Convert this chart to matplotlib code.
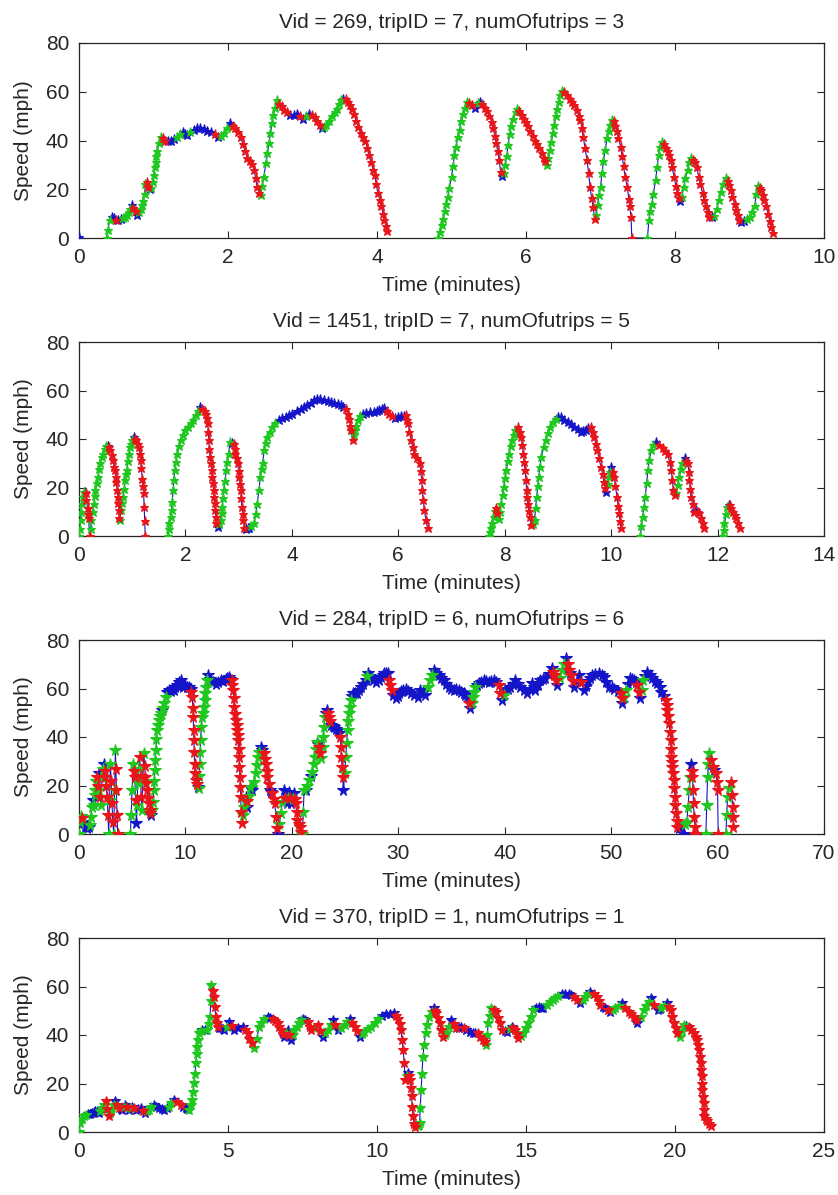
import numpy as np
import matplotlib
matplotlib.use("Agg")
import matplotlib.pyplot as plt

nan = float('nan')

titles = ["Vid = 269, tripID = 7, numOfutrips = 3",
          "Vid = 1451, tripID = 7, numOfutrips = 5",
          "Vid = 284, tripID = 6, numOfutrips = 6",
          "Vid = 370, tripID = 1, numOfutrips = 1"]
x_label = "Time (minutes)"
y_label = "Speed (mph)"
x_limits = [10, 14, 70, 25]
x_tick_lists = [[0, 2, 4, 6, 8, 10],
                [0, 2, 4, 6, 8, 10, 12, 14],
                [0, 10, 20, 30, 40, 50, 60, 70],
                [0, 5, 10, 15, 20, 25]]
y_ticks = [0, 20, 40, 60, 80]
thresholds = [18, 18, 12, 8]   # mph/min: above -> accelerating, below minus -> braking

# ---------------- trip 1 ----------------
t1 = [0.00, nan,
      0.37, 0.39, 0.41, 0.44, 0.47, 0.50, 0.53, 0.56, 0.59, 0.62, 0.65, 0.67, 0.69, 0.71, 0.73, 0.76, 0.78,
      0.81, 0.83, 0.85, 0.86, 0.88, 0.89, 0.91, 0.93, 0.95, 0.97, 0.99, 1.00, 1.02, 1.03, 1.04, 1.05, 1.07,
      1.10, 1.13, 1.16, 1.19, 1.23, 1.27, 1.32, 1.36, 1.39, 1.42, 1.45, 1.49, 1.54, 1.59, 1.63, 1.68, 1.72,
      1.77, 1.82, 1.87, 1.91, 1.95, 1.99, 2.03, 2.07, 2.10, 2.14, 2.17, 2.20, 2.23, 2.26, 2.29, 2.32, 2.35,
      2.37, 2.39, 2.42, 2.44, 2.46, 2.48, 2.51, 2.53, 2.55, 2.57, 2.59, 2.61, 2.63, 2.66, 2.69, 2.72, 2.75,
      2.79, 2.83, 2.88, 2.93, 2.97, 3.01, 3.05, 3.09, 3.13, 3.17, 3.20, 3.23, 3.26, 3.29, 3.32, 3.36, 3.40,
      3.43, 3.46, 3.49, 3.52, 3.55, 3.58, 3.61, 3.64, 3.67, 3.69, 3.72, 3.75, 3.78, 3.81, 3.84, 3.87, 3.89,
      3.92, 3.95, 3.97, 3.99, 4.01, 4.04, 4.06, 4.08, 4.10, 4.12, 4.14, nan,
      4.82, 4.85, 4.87, 4.89, 4.91, 4.93, 4.95, 4.97, 5.00, 5.02, 5.04, 5.06, 5.09, 5.11, 5.13, 5.16, 5.18,
      5.21, 5.24, 5.27, 5.31, 5.35, 5.38, 5.41, 5.45, 5.48, 5.51, 5.54, 5.56, 5.58, 5.60, 5.62, 5.64, 5.66,
      5.68, 5.70, 5.72, 5.74, 5.76, 5.78, 5.80, 5.83, 5.86, 5.88, 5.91, 5.94, 5.97, 6.00, 6.03, 6.06, 6.09,
      6.12, 6.15, 6.18, 6.21, 6.24, 6.26, 6.28, 6.30, 6.32, 6.34, 6.36, 6.38, 6.40, 6.42, 6.44, 6.46, 6.48,
      6.51, 6.55, 6.59, 6.62, 6.65, 6.68, 6.71, 6.73, 6.75, 6.77, 6.79, 6.82, 6.84, 6.86, 6.88, 6.90, 6.92,
      6.94, 6.96, 6.98, 7.00, 7.02, 7.04, 7.06, 7.09, 7.11, 7.13, 7.16, 7.18, 7.20, 7.22, 7.24, 7.27, 7.29,
      7.31, 7.33, 7.36, 7.38, 7.39, 7.41, 7.42, 7.63, 7.65, 7.67, 7.69, 7.71, 7.74, 7.76, 7.78, 7.80, 7.82,
      7.85, 7.88, 7.90, 7.92, 7.94, 7.96, 7.99, 8.01, 8.03, 8.05, 8.07, 8.09, 8.12, 8.14, 8.17, 8.19, 8.21,
      8.24, 8.27, 8.29, 8.32, 8.34, 8.37, 8.39, 8.41, 8.44, 8.46, 8.50, 8.53, 8.56, 8.59, 8.62, 8.65, 8.68,
      8.71, 8.73, 8.75, 8.77, 8.80, 8.82, 8.84, 8.86, 8.89, 8.92, 8.96, 9.00, 9.04, 9.07, 9.09, 9.11, 9.14,
      9.16, 9.18, 9.20, 9.22, 9.25, 9.27, 9.29, 9.31]
v1 = [0.5, nan,
      0, 3.3, 7.4, 8.5, 8.3, 7.5, 7.2, 7.7, 8.2, 8.8, 9.6, 10.5, 12, 13.5, 12.5, 11, 9.5,
      10.8, 12, 13.5, 15, 18, 22, 23, 21, 20, 20.5, 23, 26, 29, 31, 33.5, 35.5, 39,
      41.6, 41, 40, 39.6, 40, 40.8, 41.6, 42.8, 43.3, 42.5, 42.3, 43.5, 44.3, 45, 45, 44.6, 44,
      43.5, 42.5, 41.3, 42, 43, 45, 47, 46, 45, 43.5, 41.6, 38.5, 35.5, 33, 31.5, 30.5, 28,
      24.5, 21, 18.5, 17.7, 21.5, 25, 30.7, 35, 39, 43, 47, 50.5, 53.5, 56.5, 55, 54, 52.6,
      51.5, 50.5, 50.5, 50.8, 50, 49, 50, 51, 50.5, 49.5, 48, 46.5, 45, 45.5, 46.5, 48, 50,
      51.5, 53, 55, 56.5, 57.2, 57, 56, 54.5, 53, 51, 48, 45.5, 43, 41.5, 40, 37, 34,
      31, 28, 26, 22, 18.5, 15.5, 13, 10, 7.4, 5, 3, nan,
      0, 2.5, 5.5, 8, 11, 14, 17, 20.5, 25, 29.5, 34, 37.5, 41.6, 44.5, 47.8, 51, 53.5,
      56, 55.5, 54.5, 53.5, 55.5, 56, 55, 53.5, 52, 50, 47.5, 45, 42, 39, 35.5, 32, 27,
      25.5, 26.5, 30, 33.5, 38, 42.5, 46, 49, 51.5, 53, 52, 50.5, 49, 47.5, 46, 44, 42,
      40, 38.5, 37, 35, 33, 31.5, 30, 33, 36, 39.5, 43, 46.5, 50, 53, 56, 58.5, 60.5,
      60, 58.5, 57.2, 56, 54.5, 52.5, 50, 48.5, 45, 41.6, 37, 32, 26.5, 21, 16.5, 12.9, 8,
      9.5, 13.5, 17.5, 21, 26.5, 31.5, 36, 41, 44, 46.5, 48.3, 48, 46, 44, 41, 37.5, 33.5,
      29.5, 25, 21, 16, 13, 8.8, 0, 0, 7.4, 11, 14, 18, 24, 29, 34, 37.5, 39.5,
      38.5, 37, 35.5, 34, 32, 29, 25, 21.5, 18.5, 16.5, 15, 17, 21, 24.5, 28, 31, 32.7,
      32, 31, 29, 25, 22, 18.4, 15.5, 13, 10.5, 8.8, 8.5, 9, 12, 15.6, 19, 22, 24.5,
      23.5, 21.8, 19.5, 17, 14, 11.5, 9.5, 7.5, 6.7, 7, 7.8, 8.8, 10.5, 13, 18, 21.5, 20.5,
      19.5, 17.5, 15.5, 13, 10, 7, 4.5, 2]

# ---------------- trip 2 ----------------
t2 = [0.00, 0.02, 0.03, 0.04, 0.05, 0.07, 0.09, 0.11, 0.13, 0.14, 0.16, 0.17, 0.18, 0.20, 0.22, 0.23,
      0.26, 0.28, 0.30, 0.31, 0.34, 0.36, 0.38, 0.40, 0.43, 0.45, 0.48, 0.50, 0.54, 0.57, 0.59, 0.62,
      0.64, 0.66, 0.67, 0.69, 0.70, 0.72, 0.73, 0.74, 0.75, 0.76, 0.77, 0.79, 0.81, 0.83, 0.85, 0.87,
      0.89, 0.90, 0.92, 0.94, 0.96, 0.98, 1.00, 1.03, 1.06, 1.08, 1.10, 1.12, 1.14, 1.16, 1.17, 1.19,
      1.20, 1.215, 1.225, 1.235, 1.245, nan,
      1.67, 1.69, 1.70, 1.72, 1.74, 1.75, 1.77, 1.78, 1.80, 1.82, 1.85, 1.88, 1.91, 1.95, 2.00, 2.05,
      2.10, 2.14, 2.19, 2.23, 2.28, 2.32, 2.36, 2.38, 2.40, 2.42, 2.43, 2.44, 2.45, 2.46, 2.48, 2.49,
      2.50, 2.51, 2.53, 2.54, 2.55, 2.56, 2.57, 2.58, 2.61, 2.64, 2.66, 2.68, 2.69, 2.71, 2.72, 2.74,
      2.77, 2.79, 2.81, 2.84, 2.87, 2.91, 2.93, 2.94, 2.96, 2.98, 3.00, 3.01, 3.03, 3.04, 3.05, 3.06,
      3.08, 3.09, 3.11, 3.14, 3.17, 3.20, 3.24, 3.29, 3.32, 3.35, 3.38, 3.41, 3.43, 3.45, 3.48, 3.51,
      3.54, 3.58, 3.63, 3.69, 3.76, 3.82, 3.89, 3.95, 4.01, 4.09, 4.17, 4.23, 4.29, 4.36, 4.42, 4.48,
      4.53, 4.60, 4.67, 4.73, 4.80, 4.86, 4.92, 4.97, 5.02, 5.05, 5.08, 5.10, 5.11, 5.14, 5.17, 5.19,
      5.21, 5.24, 5.28, 5.33, 5.40, 5.47, 5.54, 5.60, 5.64, 5.69, 5.74, 5.79, 5.83, 5.88, 5.93, 5.99,
      6.05, 6.10, 6.15, 6.17, 6.19, 6.21, 6.24, 6.27, 6.30, 6.35, 6.40, 6.42, 6.44, 6.45, 6.47, 6.49,
      6.52, 6.55, nan,
      7.70, 7.72, 7.74, 7.77, 7.79, 7.82, 7.84, 7.86, 7.89, 7.91, 7.93, 7.96, 7.98, 8.01, 8.03, 8.06,
      8.08, 8.11, 8.14, 8.17, 8.20, 8.25, 8.28, 8.31, 8.33, 8.35, 8.37, 8.38, 8.40, 8.41, 8.42, 8.43,
      8.45, 8.47, 8.50, 8.53, 8.56, 8.58, 8.60, 8.62, 8.64, 8.66, 8.69, 8.73, 8.77, 8.81, 8.86, 8.91,
      8.96, 9.01, 9.06, 9.12, 9.18, 9.24, 9.30, 9.37, 9.43, 9.48, 9.52, 9.57, 9.62, 9.65, 9.68, 9.71,
      9.74, 9.77, 9.81, 9.84, 9.86, 9.89, 9.91, 9.94, 9.96, 9.98, 10.00, 10.03, 10.06, 10.08, 10.11,
      10.13, 10.15, 10.17, 10.18, nan,
      10.55, 10.57, 10.59, 10.62, 10.64, 10.67, 10.69, 10.72, 10.75, 10.79, 10.84, 10.90, 10.97, 11.02,
      11.06, 11.10, 11.13, 11.15, 11.17, 11.20, 11.22, 11.25, 11.28, 11.31, 11.33, 11.38, 11.41, 11.44,
      11.46, 11.47, 11.49, 11.50, 11.53, 11.55, 11.58, 11.60, 11.63, 11.66, 11.69, 11.72, 11.75, nan,
      12.10, 12.12, 12.13, 12.16, 12.18, 12.21, 12.23, 12.26, 12.29, 12.32, 12.35, 12.38, 12.42]
v2 = [0, 3, 6.6, 10, 13.4, 16, 18.2, 18, 17.6, 15, 11.4, 9, 7.3, 0, 3, 6.6,
      10, 13.4, 16.5, 19, 22, 24.4, 27.5, 30, 32.5, 34, 36, 37.3, 37.3, 36.5, 35.4, 33.5,
      31.3, 28.5, 27.2, 24.5, 22.4, 19, 16.2, 13.5, 10.7, 7.5, 6.6, 10.7, 13.5, 16.2, 19.5, 23,
      25.5, 27.2, 31, 34, 36.5, 38, 39.5, 40.9, 40.2, 39.5, 38, 36.8, 34, 31.3, 28, 23.7,
      20.5, 17.6, 12, 6, 0, nan,
      0, 3, 5.2, 8, 10.7, 14, 19, 23, 27.2, 30.5, 34, 37, 39.5, 41.5, 43.6, 45,
      46.4, 48, 49.8, 51.5, 53.2, 52.5, 51.5, 50.5, 48.5, 46.4, 43, 39.5, 36, 32.6, 30, 27.2,
      24.5, 21.7, 19, 16.2, 13.5, 10.7, 8, 5.2, 3.8, 5, 6.6, 9.5, 12, 15.5, 19, 22.5,
      27.2, 30.5, 34, 38.8, 38.5, 38.1, 36, 34, 32, 30, 27, 24.4, 21.5, 19, 15.5, 12,
      9, 6.6, 3.2, 3, 3.2, 3.2, 4, 5.2, 9, 13.4, 19, 24.4, 27.5, 30, 35.4, 38.5,
      40.9, 43, 45, 46.5, 47.7, 48.5, 49.1, 49.8, 50.5, 51.5, 52.3, 53, 53.9, 55, 56, 56.5,
      56.5, 56, 55.7, 55.3, 54.9, 54.5, 53.9, 53.2, 52.5, 50.5, 48.4, 45.5, 43.6, 39.5, 41.5, 43.6,
      45.5, 47.7, 49.3, 50.5, 50.8, 51, 51.2, 51.6, 51.9, 52.5, 52.9, 51.5, 50.5, 49.5, 48.7, 49,
      49.4, 49.6, 49.8, 48, 46.4, 43, 39.5, 36.5, 34, 32, 30, 27, 23, 19, 15, 10.7,
      6.5, 3.2, nan,
      0, 1.5, 3.2, 5.5, 8, 10.5, 11.4, 9.3, 6.9, 10, 13.4, 17, 20.3, 24, 27.2, 31,
      34, 37, 39.5, 41.8, 43.6, 45, 43, 40.9, 37.5, 34, 30.5, 27.2, 23, 19, 16, 13.4,
      10.5, 8, 4.5, 5, 6.6, 11.5, 16.2, 20.5, 24.4, 28.5, 32.6, 36.5, 39.5, 42.5, 45, 47,
      48.4, 49, 49.1, 48, 47, 46, 45, 44, 42.9, 43.5, 43.9, 44.5, 45, 43, 40.9, 38,
      35.4, 32, 28.5, 25.5, 22.4, 20, 18.2, 21.5, 24.4, 26.5, 28.5, 26.5, 24.4, 20.5, 16.2,
      12.5, 9.3, 6, 3.2, nan,
      0, 4, 8, 12, 16.2, 22, 27.2, 31.5, 35.4, 37.5, 38.8, 37.5, 36.1, 35,
      34, 30.5, 27.2, 23, 19, 17, 17.6, 21, 24.4, 27.5, 30, 32, 31, 30,
      26.5, 23, 19.5, 16.2, 13, 10, 10.5, 10.7, 10, 9.3, 7.5, 5.2, 3.2, nan,
      0, 2.5, 5.2, 9, 12, 12.9, 12.7, 11.5, 10, 8.5, 7.3, 5.5, 3.2]

# ---------------- trip 3 ----------------
t3 = [0.00, 0.10, 0.15, 0.25, 0.35, 0.45, 0.55, 0.65, 0.75, 0.90, 1.00, 1.10, 1.22, 1.30, 1.38, 1.46,
      1.54, 1.62, 1.70, 1.78, 1.85, 1.92, 2.00, 2.08, 2.16, 2.24, 2.32, 2.40, 2.48, 2.56, 2.64, 2.72,
      2.79, 2.87, 2.95, 3.02, 3.10, 3.18, 3.26, 3.34, 3.42, 3.47, 3.51, 3.57, 3.64, nan,
      4.83, 4.90, 4.99, 5.08, 5.16, 5.24, 5.32, 5.40, 5.46, 5.52, 5.60, 5.71, 5.78, 5.84, 5.93, 6.00,
      6.09, 6.17, 6.24, 6.32, 6.40, 6.48, 6.56, 6.64, 6.71, 6.80, 6.87, 6.95, 7.03, 7.08, 7.12, 7.17,
      7.22, 7.28, 7.34, 7.42, 7.50, 7.58, 7.66, 7.77, 7.88, 8.00, 8.13, 8.28, 8.44, 8.60, 8.75, 8.91,
      9.06, 9.22, 9.38, 9.54, 9.66, 9.79, 9.90, 10.00, 10.15, 10.30, 10.48, 10.56, 10.64, 10.69, 10.73,
      10.76, 10.80, 10.83, 10.86, 10.90, 10.95, 11.05, 11.15, 11.26, 11.31, 11.36, 11.39, 11.42, 11.50,
      11.58, 11.64, 11.72, 11.80, 11.88, 11.95, 12.03, 12.11, 12.27, 12.43, 12.63, 12.83, 13.05, 13.30,
      13.55, 13.77, 13.93, 14.09, 14.22, 14.34, 14.42, 14.50, 14.53, 14.56, 14.64, 14.72, 14.80, 14.87,
      14.91, 14.94, 14.99, 15.03, 15.08, 15.12, 15.16, 15.19, 15.25, 15.31, 15.40, 15.50, 15.58, 15.66,
      15.74, 15.81, 15.94, 16.07, 16.18, 16.29, 16.45, 16.60, 16.71, 16.82, 16.95, 17.07, 17.22, 17.38,
      17.46, 17.54, 17.62, 17.70, 17.82, 17.95, 18.06, 18.17, 18.28, 18.39, 18.52, 18.64, 18.70, 18.82,
      18.95, 19.10, 19.27, 19.40, 19.52, 19.63, 19.74, 19.85, 19.96, 20.08, 20.21, 20.30, 20.36, 20.45,
      20.52, 20.63, 20.74, 20.85, 20.99, 21.07, 21.15, 21.30, 21.46, 21.62, 21.78, 21.93, 22.04, 22.15,
      22.25, 22.34, 22.45, 22.56, 22.67, 22.78, 22.88, 22.97, 23.03, 23.09, 23.22, 23.34, 23.42, 23.50,
      23.58, 23.66, 23.82, 23.97, 24.13, 24.29, 24.42, 24.54, 24.60, 24.66, 24.71, 24.76, 24.85, 24.96,
      25.07, 25.15, 25.23, 25.30, 25.38, 25.46, 25.54, 25.66, 25.79, 25.95, 26.10, 26.30, 26.48, 26.70,
      26.95, 27.05, 27.17, 27.30, 27.42, 27.65, 27.90, 28.15, 28.37, 28.52, 28.68, 28.84, 28.99, 29.12,
      29.24, 29.40, 29.55, 29.78, 29.95, 30.10, 30.25, 30.48, 30.72, 30.95, 31.19, 31.50, 31.82, 32.06,
      32.30, 32.53, 32.75, 33.00, 33.15, 33.31, 33.55, 33.78, 34.00, 34.25, 34.50, 34.73, 34.95, 35.20,
      35.45, 35.67, 35.90, 36.14, 36.30, 36.45, 36.60, 36.77, 36.90, 37.02, 37.13, 37.24, 37.40, 37.55,
      37.80, 38.02, 38.25, 38.49, 38.72, 38.96, 39.20, 39.43, 39.60, 39.75, 39.90, 40.06, 40.30, 40.53,
      40.75, 41.00, 41.25, 41.48, 41.80, 42.10, 42.35, 42.57, 42.72, 42.89, 43.10, 43.36, 43.60, 43.83,
      44.15, 44.46, 44.55, 44.62, 44.78, 44.93, 45.15, 45.40, 45.60, 45.78, 45.90, 46.03, 46.15, 46.25,
      46.38, 46.50, 46.75, 46.97, 47.20, 47.44, 47.60, 47.85, 48.00, 48.23, 48.50, 48.85, 49.10, 49.32,
      49.55, 49.80, 50.05, 50.27, 50.60, 50.90, 50.98, 51.05, 51.20, 51.37, 51.57, 51.77, 51.95, 52.15,
      52.30, 52.46, 52.60, 52.72, 52.88, 53.03, 53.20, 53.41, 53.65, 53.88, 54.10, 54.35, 54.55, 54.73,
      54.93, 55.13, 55.22, 55.29, 55.37, 55.45, 55.52, 55.60, 55.64, 55.67, 55.72, 55.76, 55.84, 55.92,
      55.95, 55.98, 56.03, 56.08, 56.15, 56.23, 56.40, 56.60, 56.80, 56.95, 57.11, 57.22, 57.33, 57.44,
      57.55, 57.60, 57.64, 57.69, 57.74, 57.80, 57.86, 57.90, nan,
      58.90, 58.98, 59.06, 59.14, 59.22, 59.38, 59.53, 59.68, 59.84, 59.92, 60.00, 60.06, nan,
      60.78, 60.86, 60.94, 61.10, 61.26, 61.34, 61.41, 61.45, 61.48]
v3 = [0, 5, 7.5, 6.5, 5, 4.4, 3.5, 2.7, 2.5, 3, 3.7, 7, 11, 14, 12, 16,
      18, 22, 23.6, 20, 18, 25, 15.4, 12, 23.6, 27, 29, 26, 23.6, 20, 15.4, 8,
      0, 14, 29, 22, 12.6, 5, 0, 18, 34.6, 27, 18, 8, 0, nan,
      0, 8, 18, 29, 26, 23.6, 14, 4.4, 12, 20.9, 27, 31.9, 24, 15.4, 9.9, 22,
      33.3, 28, 23.6, 21, 18, 15, 12.6, 10, 8.5, 8, 9.9, 13, 18, 22, 26.4, 30.5,
      34.6, 39, 42.9, 45, 47, 48.5, 49.8, 51, 51.8, 54, 56.6, 58.5, 59.4, 58.8, 59.6, 59.4,
      60.5, 61.4, 62.5, 63.5, 61.5, 60.8, 61.2, 61.4, 60.5, 60.8, 60, 58.5, 56.6, 52, 48.4,
      43, 38.8, 34, 29, 25, 22.3, 20.5, 19.5, 18.8, 24, 29, 34, 38.8, 44,
      48.4, 49.8, 52.5, 55.3, 58, 60.8, 63.5, 65.6, 64, 63.2, 62.5, 61.9, 62.8, 63.5,
      63.2, 63.8, 64.3, 64.9, 64, 63.5, 61.5, 59.4, 56, 52.5, 49.5, 47, 45, 42.9,
      41, 38.8, 35, 31.9, 27.5, 23.6, 19.5, 15.4, 9, 4.4, 8, 11.3, 13.5, 15.4,
      13.5, 11.3, 15.5, 19.5, 19, 18, 21.5, 25, 28.5, 31.9, 34, 36, 34.5, 33.3,
      31, 29, 26, 23.6, 20.5, 18, 17.5, 16.8, 14.5, 12.6, 7, 2.3, 0, 4,
      8.5, 13, 18, 15, 12.6, 15, 17.5, 15, 12.6, 14.5, 16.8, 14.5, 12.6, 9,
      5.8, 4, 3, 1, 0, 9, 18, 18, 20, 22.3, 24, 25.7, 29, 31.9,
      35, 38.1, 37, 36, 33.5, 31.2, 36, 40.1, 44, 48.4, 50, 51, 50, 48.4,
      46.5, 45, 44.5, 44.3, 43.5, 42.9, 41.5, 40.1, 36, 31.9, 27.5, 23.6, 18, 25,
      31.9, 37.5, 42.9, 46.5, 49.8, 52.5, 55.3, 57, 58, 58.2, 58, 59.5, 60.8, 62,
      63.5, 65, 66.3, 65.2, 64.2, 63.5, 62.8, 63.5, 64.6, 65.5, 66.5, 66.5, 66.3, 63.5,
      61.4, 59.5, 57.5, 55.9, 57, 58.2, 59.1, 59.5, 60, 59, 58, 57.3, 56.6, 59.4,
      58.5, 57.3, 60.5, 63.5, 65.5, 67.6, 66.5, 65.6, 64.5, 63.5, 62, 60.8, 60, 59.4,
      59.8, 59.4, 58.5, 58, 57.5, 56.6, 54, 51.8, 54, 56.6, 58.5, 60.8, 61.5, 62.1,
      62.8, 63.5, 63, 62.8, 63.2, 63.5, 62.5, 61.4, 58, 55.3, 57.5, 59.4, 60, 60.8,
      62, 63.5, 62, 60.8, 59.5, 58, 60, 62.1, 60.5, 59.4, 61.5, 63.5, 63.8, 64.2,
      66, 68.3, 67, 65.6, 63.5, 61.4, 64.5, 67.6, 70, 72.4, 70, 67.6, 66.5, 65.6,
      63, 60.8, 63, 65.6, 62.5, 59.4, 61, 63, 64.5, 65.6, 66, 66.3, 65.5, 64.9,
      62.8, 60.8, 60.5, 60, 59, 58, 56, 53.9, 56.5, 59.4, 62, 64.2, 64, 63.5,
      62.5, 61.4, 58.5, 55.9, 59.5, 63.5, 65, 66.9, 65.5, 64.2, 63, 62.1, 60.5, 58.7,
      57, 55.3, 53, 51.1, 48.5, 45.6, 42, 38.8, 35, 31.9, 29.5, 27.8, 25, 22.3,
      19, 15.4, 12, 8.5, 5.5, 3, 2.5, 3, 0, 4, 5, 11, 18, 23.5,
      29, 26, 23.6, 18, 12.6, 7, 3, 0, nan,
      0, 12, 23.6, 29, 33.3, 30.5, 27.8, 26.5, 25, 21.5, 18, 0, nan,
      0, 8, 15.4, 19, 21.6, 16, 11.3, 7, 3]

# ---------------- trip 4 ----------------
t4 = [0.00, 0.04, 0.10, 0.16, 0.22, 0.29, 0.37, 0.44, 0.50, 0.55, 0.61, 0.66, 0.72, 0.77, 0.83, 0.89,
      0.94, 0.99, 1.04, 1.09, 1.16, 1.22, 1.28, 1.34, 1.40, 1.45, 1.51, 1.56, 1.62, 1.67, 1.73, 1.78,
      1.84, 1.90, 1.98, 2.07, 2.15, 2.23, 2.29, 2.35, 2.43, 2.51, 2.60, 2.68, 2.77, 2.85, 2.94, 3.02,
      3.10, 3.19, 3.30, 3.41, 3.50, 3.58, 3.64, 3.69, 3.75, 3.80, 3.83, 3.86, 3.89, 3.92, 3.95, 3.97,
      4.00, 4.03, 4.08, 4.14, 4.22, 4.31, 4.36, 4.40, 4.42, 4.44, 4.48, 4.53, 4.56, 4.59, 4.62, 4.65,
      4.70, 4.76, 4.82, 4.87, 4.95, 5.04, 5.12, 5.21, 5.35, 5.49, 5.57, 5.66, 5.72, 5.79, 5.88, 5.96,
      6.05, 6.12, 6.20, 6.33, 6.42, 6.50, 6.58, 6.67, 6.72, 6.78, 6.84, 6.89, 6.95, 7.00, 7.06, 7.12,
      7.17, 7.23, 7.30, 7.37, 7.44, 7.51, 7.60, 7.68, 7.74, 7.79, 7.90, 8.01, 8.10, 8.18, 8.27, 8.35,
      8.44, 8.52, 8.60, 8.69, 8.80, 8.91, 9.00, 9.08, 9.17, 9.25, 9.34, 9.42, 9.50, 9.58, 9.70, 9.81,
      9.92, 10.03, 10.17, 10.31, 10.44, 10.57, 10.64, 10.71, 10.76, 10.80, 10.84, 10.88, 10.91, 10.95,
      11.00, 11.04, 11.07, 11.10, 11.13, 11.16, 11.18, 11.21, 11.25, 11.29, 11.36, 11.40, 11.43, 11.45,
      11.48, 11.51, 11.54, 11.58, 11.63, 11.69, 11.76, 11.83, 11.90, 11.95, 11.99, 12.05, 12.10, 12.15,
      12.21, 12.27, 12.33, 12.41, 12.49, 12.57, 12.66, 12.74, 12.83, 12.92, 13.00, 13.11, 13.22, 13.30,
      13.39, 13.47, 13.56, 13.62, 13.67, 13.70, 13.73, 13.78, 13.84, 13.92, 13.99, 14.05, 14.12, 14.18,
      14.28, 14.37, 14.45, 14.52, 14.58, 14.63, 14.69, 14.74, 14.83, 14.91, 15.00, 15.08, 15.17, 15.25,
      15.33, 15.42, 15.50, 15.58, 15.70, 15.81, 15.90, 15.98, 16.09, 16.20, 16.32, 16.43, 16.52, 16.60,
      16.70, 16.80, 16.90, 16.99, 17.08, 17.16, 17.27, 17.38, 17.44, 17.49, 17.58, 17.66, 17.75, 17.83,
      17.92, 18.00, 18.11, 18.22, 18.33, 18.45, 18.53, 18.62, 18.68, 18.73, 18.85, 18.96, 19.04, 19.12,
      19.20, 19.31, 19.43, 19.49, 19.54, 19.64, 19.74, 19.80, 19.85, 19.91, 19.97, 20.03, 20.08, 20.17,
      20.23, 20.30, 20.38, 20.47, 20.55, 20.64, 20.69, 20.73, 20.77, 20.81, 20.84, 20.87, 20.88, 20.89,
      20.91, 20.92, 20.94, 20.96, 20.97, 20.98, 21.03, 21.09, 21.15, 21.20]
v4 = [0, 3.7, 5.2, 6.4, 7, 7.5, 7.6, 7.8, 8.2, 8.5, 8.2, 7.8, 8.8, 9.9, 11.2, 12.6,
      9.5, 6.4, 7.8, 9.2, 11, 12.6, 11.2, 9.9, 9.5, 9.2, 10.2, 11.2, 10.2, 9.2, 9.9, 10.5,
      9.8, 9.2, 9.5, 9.9, 8.8, 7.8, 8.5, 9.2, 10.2, 11.2, 10.5, 9.9, 9.5, 9.2, 9.8, 10.5,
      12, 13.3, 12.2, 11.2, 10.5, 9.9, 9.5, 9.2, 11, 13.3, 16.5, 20.1, 24, 28.4, 32, 35.2,
      38, 40.7, 41.5, 42, 42, 42, 44.5, 47.5, 54, 60.5, 58, 55.8, 51.5, 47.5, 45, 43.4,
      43, 42.7, 42.3, 42, 43.5, 45.5, 43.8, 42, 42.7, 43.4, 42, 40.7, 38.5, 36.6, 34.5, 38.5,
      43.4, 45, 46.5, 47.5, 47.2, 46.8, 45.8, 44.8, 43.5, 42, 40.5, 39.3, 40.7, 42, 40, 37.9,
      40, 42, 43.5, 45, 46, 46.8, 46.2, 45.5, 43.5, 42, 43, 44.1, 41.5, 39.3, 40.7, 42,
      44, 46.2, 44, 42, 43, 44.1, 45.5, 46.8, 45, 43.4, 41.5, 39.3, 40.4, 41.4, 42.4, 43.4,
      45, 46.8, 47.8, 48.6, 48.8, 48.9, 48, 46.8, 44.5, 42, 38, 33.8, 28.4, 21.5,
      23, 24.2, 23, 21.5, 18, 14.7, 10.5, 6.4, 3.5, 2, 2.5, 3, 3.7, 10,
      17.4, 24, 31, 36, 40.7, 44, 47.5, 49.5, 51, 50, 48.9, 47, 44.8, 42,
      39.3, 40, 40.7, 43.5, 46.2, 44.5, 42.7, 43, 43.4, 42.7, 42, 41.3, 40.7, 40.7,
      40.7, 39.3, 37.9, 37, 35.9, 40, 44.8, 48, 51, 50.3, 49.6, 47, 44.8, 42,
      41.7, 41.4, 42.4, 43.4, 42.7, 42, 40.3, 38.6, 39.6, 40.7, 42.7, 44.8, 47.5, 50.3,
      51, 51.6, 51.3, 51, 52.3, 53.7, 54.4, 55.1, 56.1, 57.1, 57, 56.8, 56.3, 55.8,
      54.4, 53, 54.4, 55.8, 56.8, 57.8, 56.8, 55.8, 54, 52.3, 51.6, 51, 50.3, 49.6,
      50.3, 51, 52, 53, 51.3, 49.6, 48.5, 47.5, 46, 44.8, 47.5, 50.3, 52, 53.7,
      55.1, 52.5, 50.3, 50.6, 51, 52, 53, 51.6, 50.3, 47.5, 44.8, 42.7, 40.7, 39.3,
      41.7, 44.1, 43.8, 43.4, 42, 40.7, 39.3, 37.9, 36, 33.8, 31, 28.4, 25.5, 22.9,
      20, 17.4, 14.5, 11.9, 9, 6.4, 5.5, 4.4, 3.3, 2.3]

times = [t1, t2, t3, t4]
speeds = [v1, v2, v3, v4]

GREEN = '#1fc81f'
RED = '#e8161b'
BLUE = '#1414c8'
TEXT = '#262626'
marker_sizes = [6.5, 6.5, 8.5, 7.5]

plt.rcParams['font.family'] = ['Liberation Sans', 'DejaVu Sans']
plt.rcParams['font.size'] = 15

fig = plt.figure(figsize=(8.38, 11.95), dpi=100)
W, H = 838.0, 1195.0
axes_px = [(79, 43, 824, 238), (79, 342, 824, 536), (79, 640, 824, 834), (79, 938, 824, 1132)]


def slopes(t, v):
    n = len(t)
    out = np.zeros(n)
    for i in range(n):
        if np.isnan(v[i]):
            out[i] = np.nan
            continue
        s = []
        if i + 1 < n and not np.isnan(v[i + 1]):
            s.append((v[i + 1] - v[i]) / (t[i + 1] - t[i]))
        if i > 0 and not np.isnan(v[i - 1]):
            s.append((v[i] - v[i - 1]) / (t[i] - t[i - 1]))
        out[i] = np.mean(s) if s else 0.0
    return out


for k in range(4):
    l, tp, r, b = axes_px[k]
    ax = fig.add_axes([l / W, 1 - b / H, (r - l) / W, (b - tp) / H])
    t = np.asarray(times[k], float)
    v = np.asarray(speeds[k], float)
    a = slopes(t, v)
    thr = thresholds[k]
    ax.plot(t, v, '-', color=BLUE, lw=0.8, zorder=2)
    valid = ~np.isnan(v)
    for mask, col in [((a > -thr) & (a < thr) & valid, BLUE),
                      ((a >= thr) & valid, GREEN),
                      ((a <= -thr) & valid, RED)]:
        ax.plot(t[mask], v[mask], linestyle='none', marker='*', ms=marker_sizes[k], mew=0.8,
                color=col, mec=col, zorder=3)
    ax.set_xlim(0, x_limits[k])
    ax.set_ylim(0, 80)
    ax.set_xticks(x_tick_lists[k])
    ax.set_yticks(y_ticks)
    ax.tick_params(direction='in', top=True, right=True, length=5, width=0.8,
                   colors=TEXT, labelsize=15, pad=7)
    for sp in ax.spines.values():
        sp.set_color(TEXT)
        sp.set_linewidth(0.9)
    ax.set_title(titles[k], fontsize=15, color=TEXT, pad=11)
    ax.set_xlabel(x_label, fontsize=15, color=TEXT, labelpad=7)
    ax.set_ylabel(y_label, fontsize=15, color=TEXT, labelpad=9)

fig.savefig('out.png', dpi=100)
